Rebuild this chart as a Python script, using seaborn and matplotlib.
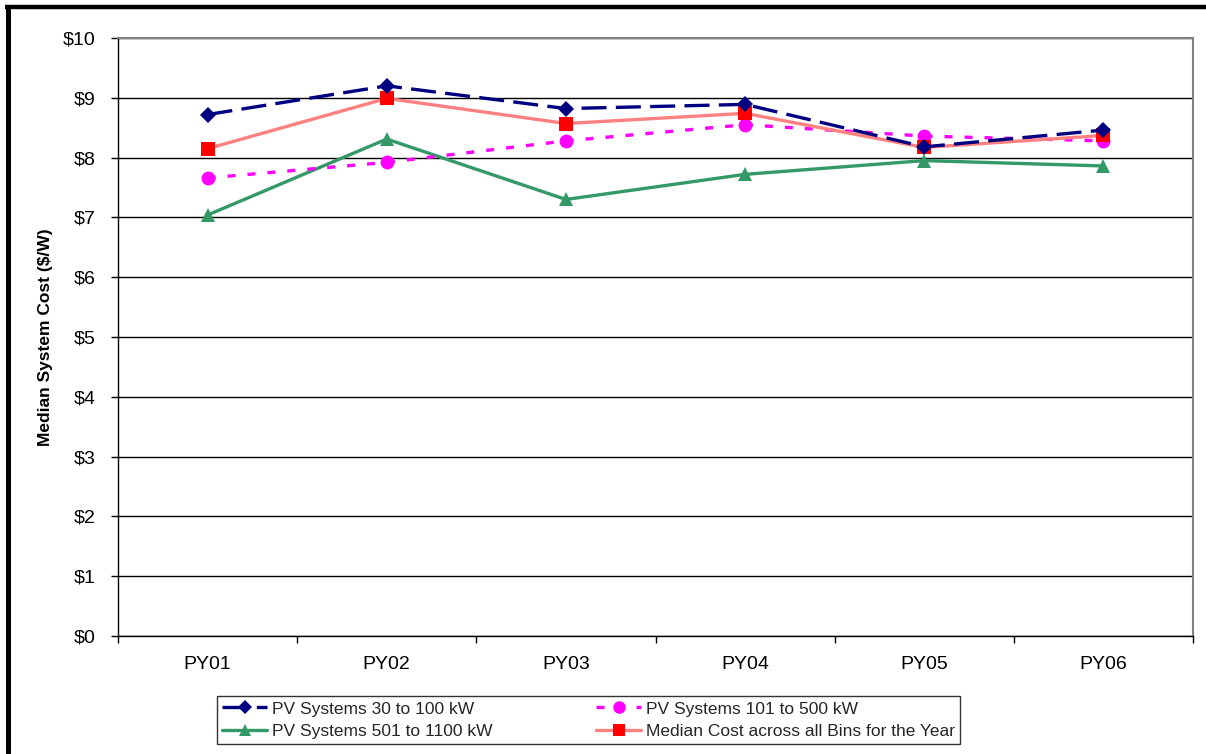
import matplotlib
matplotlib.use("Agg")
import matplotlib.pyplot as plt
import matplotlib.ticker as mticker
from matplotlib.lines import Line2D
import pandas as pd
import seaborn as sns

# Program years and median installed cost ($/W) per system size bin
years = ["PY01", "PY02", "PY03", "PY04", "PY05", "PY06"]
cost_30_100 = [8.72, 9.20, 8.82, 8.89, 8.18, 8.46]
cost_101_500 = [7.66, 7.92, 8.28, 8.55, 8.36, 8.28]
cost_501_1100 = [7.04, 8.31, 7.30, 7.72, 7.95, 7.86]
cost_all_bins = [8.15, 8.99, 8.57, 8.74, 8.17, 8.37]

series_names = [
    "PV Systems 30 to 100 kW",
    "PV Systems 501 to 1100 kW",
    "PV Systems 101 to 500 kW",
    "Median Cost across all Bins for the Year",
]
series_values = [cost_30_100, cost_501_1100, cost_101_500, cost_all_bins]

sns.set_theme(style="white")
plt.rcParams["font.family"] = ["Liberation Sans", "DejaVu Sans"]

fig = plt.figure(figsize=(12.06, 7.54), dpi=100)
ax = fig.add_axes([118 / 1206, 118 / 754, 1075 / 1206, 598 / 754])

styles = {
    "PV Systems 30 to 100 kW": dict(color="#000080", marker="D", markersize=8,
                                    linestyle=(0, (7.5, 2.8)), mfc="#000080", mec="#000080"),
    "PV Systems 101 to 500 kW": dict(color="#FF00FF", marker="o", markersize=10,
                                     linestyle=(0, (2.4, 3.6)), mfc="#FF00FF", mec="#FF00FF"),
    "PV Systems 501 to 1100 kW": dict(color="#339966", marker="^", markersize=10,
                                      linestyle="-", mfc="#339966", mec="#339966"),
    "Median Cost across all Bins for the Year": dict(color="#FF8080", marker="s", markersize=10,
                                                     linestyle="-", mfc="#FF0000", mec="#FF0000"),
}

draw_order = [
    "PV Systems 501 to 1100 kW",
    "PV Systems 101 to 500 kW",
    "Median Cost across all Bins for the Year",
    "PV Systems 30 to 100 kW",
]
frames = {
    name: pd.DataFrame({"year": years, "cost": vals})
    for name, vals in zip(series_names, series_values)
}
handles = {}
for name in draw_order:
    st = styles[name]
    sns.lineplot(data=frames[name], x="year", y="cost", ax=ax, color=st["color"],
                 linewidth=2.4, marker=st["marker"], markersize=st["markersize"],
                 markerfacecolor=st["mfc"], markeredgecolor=st["mec"],
                 markeredgewidth=0, sort=False, zorder=3)
    ax.lines[-1].set_linestyle(st["linestyle"])
    handles[name] = Line2D([], [], color=st["color"], linewidth=2.4,
                           linestyle=st["linestyle"], marker=st["marker"],
                           markersize=st["markersize"] * 0.9,
                           markerfacecolor=st["mfc"], markeredgecolor=st["mec"],
                           markeredgewidth=0)

ax.set_xlim(-0.5, len(years) - 0.5)
ax.set_ylim(0, 10)
ax.yaxis.set_major_locator(mticker.MultipleLocator(1))
ax.yaxis.set_major_formatter(mticker.FuncFormatter(lambda v, p: f"${v:.0f}"))
ax.grid(axis="y", color="#000000", linewidth=1.0)
ax.grid(axis="x", visible=False)
ax.set_axisbelow(True)

ax.set_xticks(range(len(years)))
ax.set_xticklabels(years)
ax.set_xticks([i - 0.5 for i in range(len(years) + 1)], minor=True)
ax.tick_params(axis="x", which="major", length=0, pad=14.5, labelsize=14, colors="black")
ax.tick_params(axis="x", which="minor", length=5, width=1, color="black", direction="out", bottom=True)
ax.tick_params(axis="y", which="major", length=5, width=1, color="black", direction="out",
               left=True, pad=11, labelsize=14, labelcolor="black")

ax.set_xlabel("")
ax.set_ylabel("Median System Cost ($/W)", fontsize=12.5, fontweight="bold", labelpad=7, color="black")

for side in ["left", "bottom"]:
    ax.spines[side].set_color("black")
    ax.spines[side].set_linewidth(1.0)
for side in ["top", "right"]:
    ax.spines[side].set_color("#808080")
    ax.spines[side].set_linewidth(1.5)
ax.spines["bottom"].set_zorder(4)

leg_order = series_names
leg = fig.legend([handles[n] for n in leg_order], leg_order, ncol=2,
                 loc="center", bbox_to_anchor=(588.5 / 1206, 1 - 720 / 754),
                 fontsize=12.5, frameon=True, fancybox=False, shadow=False,
                 handlelength=2.6, handletextpad=0.25, columnspacing=6.0,
                 labelspacing=0.4, borderpad=0.3, borderaxespad=0)
leg.get_frame().set_edgecolor("black")
leg.get_frame().set_linewidth(1.0)

# outer frame of the chart
fig.add_artist(Line2D([5 / 1206, 1.0], [1 - 6.5 / 754, 1 - 6.5 / 754],
                      color="black", linewidth=3.2, solid_capstyle="butt",
                      transform=fig.transFigure))
fig.add_artist(Line2D([7.5 / 1206, 7.5 / 1206], [0, 1 - 4.5 / 754],
                      color="black", linewidth=3.6, solid_capstyle="butt",
                      transform=fig.transFigure))

fig.savefig("out.png", dpi=100)
